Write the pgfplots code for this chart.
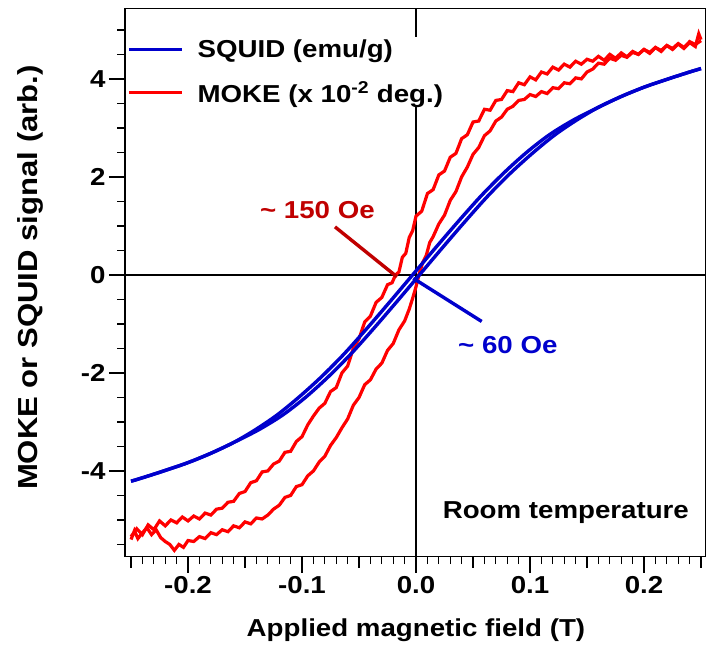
\documentclass[border=0pt]{standalone}
\usepackage{pgfplots}
\pgfplotsset{compat=1.18}
\usepackage{fontspec}
\setmainfont{Liberation Sans}[FakeStretch=1.13]
\definecolor{sqblue}{RGB}{0,0,204}
\definecolor{mkred}{RGB}{255,0,0}
\definecolor{annred}{RGB}{192,0,0}
\newcommand{\bigfont}{\bfseries\fontsize{24.5}{29}\selectfont}
\newcommand{\ylfont}{\bfseries\fontsize{27.5}{32}\selectfont}
\begin{document}
\begin{tikzpicture}
\begin{axis}[
  scale only axis, width=580.7pt, height=548.4pt,
  xmin=-0.2553, xmax=0.2541, ymin=-5.75, ymax=5.44,
  axis line style={line width=1.3pt},
  tick align=outside, xtick pos=bottom, ytick pos=left,
  xtick={-0.2,-0.1,0,0.1,0.2}, xticklabels={-0.2,-0.1,0.0,0.1,0.2},
  minor xtick={-0.25,-0.24,...,0.25},
  extra x ticks={-0.25,-0.15,-0.05,0.05,0.15,0.25}, extra x tick labels={},
  extra x tick style={major tick length=11pt},
  ytick={-4,-2,0,2,4}, yticklabels={-4,-2,0,2,4},
  minor ytick={-5.5,-5,...,5},
  major tick length=16pt, minor tick length=7.5pt,
  every tick/.style={black, line width=1.3pt},
  ticklabel style={font=\bigfont},
  xlabel={Applied magnetic field (T)},
  ylabel={MOKE or SQUID signal (arb.)},
  xlabel style={font=\bigfont, at={(axis description cs:0.501,-0.1337)}, anchor=center},
  ylabel style={font=\ylfont, at={(axis description cs:-0.1636,0.509)}, anchor=center},
  legend style={at={(axis description cs:0.0017,0.948)}, anchor=north west,
    fill=white, draw=none, font=\bigfont, row sep=18pt, inner sep=1pt},
  legend cell align=left,
  legend image code/.code={\draw[#1] (0pt,0pt) -- (53pt,0pt); \path (65pt,0pt);},
]
\addlegendimage{sqblue, line width=3.4pt}
\addlegendentry{SQUID (emu/g)}
\addlegendimage{mkred, line width=3.4pt}
\addlegendentry{MOKE (x 10\textsuperscript{-2} deg.)}

\draw[black, line width=1.3pt] (axis cs:0,-5.75) -- (axis cs:0,5.44);
\draw[black, line width=1.3pt] (axis cs:-0.2553,0) -- (axis cs:0.2541,0);

% MOKE descending branch
\addplot[mkred, line width=3.2pt, forget plot] coordinates {
(0.250,4.80) (0.248,4.92) (0.245,4.66) (0.240,4.74) (0.235,4.62) (0.230,4.71)
(0.225,4.60) (0.220,4.68) (0.215,4.58) (0.210,4.64) (0.205,4.52) (0.200,4.60)
(0.195,4.50) (0.190,4.56) (0.185,4.45) (0.180,4.53) (0.175,4.42) (0.170,4.50)
(0.165,4.38) (0.160,4.46) (0.155,4.36) (0.150,4.40) (0.145,4.30) (0.140,4.36)
(0.135,4.24) (0.130,4.30) (0.125,4.18) (0.120,4.24) (0.115,4.10) (0.110,4.14)
(0.105,3.98) (0.100,4.04) (0.095,3.88) (0.090,3.92) (0.085,3.74) (0.080,3.76)
(0.075,3.58) (0.070,3.56) (0.065,3.36) (0.060,3.38) (0.055,3.14) (0.050,3.12)
(0.045,2.86) (0.040,2.78) (0.035,2.48) (0.030,2.40) (0.025,2.12) (0.020,2.04)
(0.015,1.74) (0.010,1.66) (0.005,1.30) (0.000,1.20) (-0.003,0.90) (-0.006,0.76)
(-0.009,0.44) (-0.012,0.36) (-0.015,0.06) (-0.018,0.00) (-0.021,-0.16) (-0.025,-0.20)
(-0.030,-0.46) (-0.035,-0.56) (-0.040,-0.84) (-0.045,-0.96) (-0.050,-1.30) (-0.055,-1.50)
(-0.060,-1.86) (-0.065,-2.00) (-0.070,-2.30) (-0.075,-2.38) (-0.080,-2.62) (-0.085,-2.72)
(-0.090,-2.88) (-0.095,-3.06) (-0.100,-3.30) (-0.105,-3.40) (-0.110,-3.60) (-0.115,-3.62)
(-0.120,-3.80) (-0.125,-3.86) (-0.130,-4.00) (-0.135,-4.02) (-0.140,-4.20) (-0.145,-4.24)
(-0.150,-4.42) (-0.155,-4.46) (-0.160,-4.62) (-0.165,-4.64) (-0.170,-4.76) (-0.175,-4.78)
(-0.180,-4.90) (-0.185,-4.86) (-0.190,-4.98) (-0.195,-4.92) (-0.200,-5.02) (-0.205,-4.94)
(-0.210,-5.06) (-0.215,-5.00) (-0.220,-5.12) (-0.225,-5.02) (-0.230,-5.20) (-0.235,-5.10)
(-0.240,-5.30) (-0.245,-5.18) (-0.250,-5.34)
};
% MOKE ascending branch
\addplot[mkred, line width=3.2pt, forget plot] coordinates {
(-0.250,-5.40) (-0.247,-5.22) (-0.244,-5.38) (-0.240,-5.26) (-0.236,-5.16) (-0.232,-5.30)
(-0.228,-5.20) (-0.224,-5.36) (-0.220,-5.44) (-0.216,-5.50) (-0.212,-5.62) (-0.208,-5.50)
(-0.204,-5.56) (-0.200,-5.42) (-0.195,-5.44) (-0.190,-5.34) (-0.185,-5.38) (-0.180,-5.26)
(-0.175,-5.30) (-0.170,-5.20) (-0.165,-5.24) (-0.160,-5.12) (-0.155,-5.16) (-0.150,-5.04)
(-0.145,-5.08) (-0.140,-4.96) (-0.135,-4.98) (-0.130,-4.90) (-0.125,-4.78) (-0.120,-4.70)
(-0.115,-4.54) (-0.110,-4.50) (-0.105,-4.32) (-0.100,-4.28) (-0.095,-4.10) (-0.090,-4.00)
(-0.085,-3.82) (-0.080,-3.70) (-0.075,-3.48) (-0.070,-3.32) (-0.065,-3.12) (-0.060,-2.94)
(-0.055,-2.66) (-0.050,-2.50) (-0.045,-2.24) (-0.040,-2.14) (-0.035,-1.92) (-0.030,-1.80)
(-0.025,-1.54) (-0.020,-1.40) (-0.015,-1.12) (-0.010,-0.94) (-0.006,-0.70) (-0.003,-0.48)
(0.000,-0.24) (0.003,0.04) (0.006,0.26) (0.009,0.40) (0.012,0.66) (0.015,0.78)
(0.020,1.04) (0.025,1.22) (0.030,1.52) (0.035,1.70) (0.040,2.00) (0.045,2.20)
(0.050,2.46) (0.055,2.60) (0.060,2.84) (0.065,2.94) (0.070,3.14) (0.075,3.22)
(0.080,3.38) (0.085,3.44) (0.090,3.56) (0.095,3.58) (0.100,3.68) (0.105,3.64)
(0.110,3.74) (0.115,3.70) (0.120,3.82) (0.125,3.80) (0.130,3.92) (0.135,3.90)
(0.140,4.02) (0.145,4.00) (0.150,4.14) (0.155,4.20) (0.160,4.32) (0.165,4.30)
(0.170,4.42) (0.175,4.38) (0.180,4.48) (0.185,4.44) (0.190,4.54) (0.195,4.50)
(0.200,4.60) (0.205,4.54) (0.210,4.64) (0.215,4.56) (0.220,4.68) (0.225,4.62)
(0.230,4.72) (0.235,4.64) (0.240,4.76) (0.245,4.70) (0.250,4.78)
};
% SQUID descending
\addplot[sqblue, line width=3.4pt, smooth, forget plot] coordinates {
(0.25,4.21) (0.24,4.14) (0.22,3.99) (0.20,3.83) (0.18,3.64) (0.16,3.42)
(0.138,3.16) (0.117,2.86) (0.097,2.50) (0.077,2.08) (0.057,1.61) (0.037,1.09)
(0.017,0.55) (-0.003,0) (-0.023,-0.55) (-0.043,-1.09) (-0.063,-1.61) (-0.083,-2.08)
(-0.103,-2.50) (-0.122,-2.86) (-0.141,-3.16) (-0.16,-3.42) (-0.18,-3.64) (-0.20,-3.83)
(-0.22,-3.99) (-0.24,-4.14) (-0.25,-4.21)
};
% SQUID ascending
\addplot[sqblue, line width=3.4pt, smooth, forget plot] coordinates {
(-0.25,-4.21) (-0.24,-4.14) (-0.22,-3.99) (-0.20,-3.83) (-0.18,-3.64) (-0.16,-3.42)
(-0.138,-3.16) (-0.117,-2.86) (-0.097,-2.50) (-0.077,-2.08) (-0.057,-1.61) (-0.037,-1.09)
(-0.017,-0.55) (0.003,0) (0.023,0.55) (0.043,1.09) (0.063,1.61) (0.083,2.08)
(0.103,2.50) (0.122,2.86) (0.141,3.16) (0.16,3.42) (0.18,3.64) (0.20,3.83)
(0.22,3.99) (0.24,4.14) (0.25,4.21)
};

\draw[annred, line width=3.4pt] (axis cs:-0.0711,0.98) -- (axis cs:-0.0167,-0.04);
\draw[sqblue, line width=3.4pt] (axis cs:-0.0024,-0.07) -- (axis cs:0.0576,-0.95);

\node[annred, font=\bigfont, anchor=base east, inner sep=0pt] at (axis cs:-0.0360,1.153) {\textasciitilde{} 150 Oe};
\node[sqblue, font=\bigfont, anchor=base west, inner sep=0pt] at (axis cs:0.0368,-1.60) {\textasciitilde{} 60 Oe};
\node[black, font=\bigfont, anchor=base west, inner sep=0pt] at (axis cs:0.0233,-4.965) {Room temperature};
\end{axis}
\pgfresetboundingbox
\path ([xshift=-125pt,yshift=-98.3pt]current axis.south west) rectangle ([xshift=6.3pt,yshift=8.3pt]current axis.north east);
\end{tikzpicture}
\end{document}
